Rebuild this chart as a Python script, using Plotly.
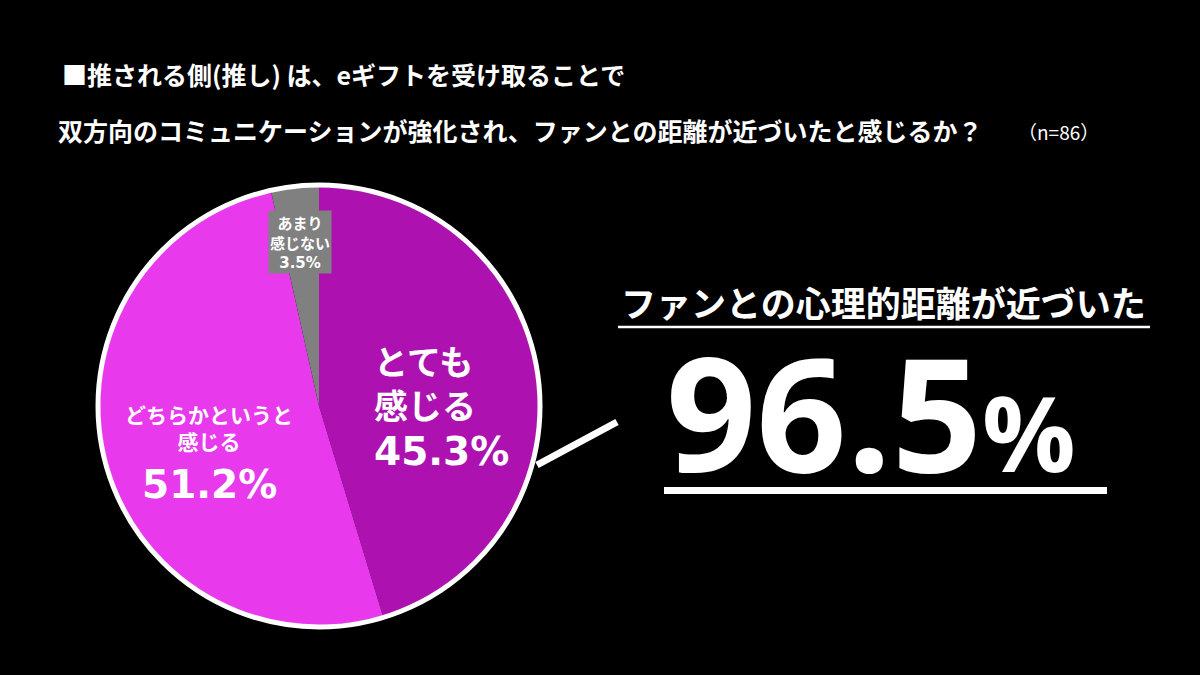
import plotly.graph_objects as go

W, H = 1200, 675

# ---- data ----
categories = ["とても感じる", "どちらかというと感じる", "あまり感じない"]
values = [45.3, 51.2, 3.5]
label_lines = ["とても<br>感じる", "どちらかというと<br>感じる", "あまり<br>感じない"]
colors = ["#AD12B1", "#E83AEC", "#808080"]
title_line1 = "■推される側(推し) は、eギフトを受け取ることで"
title_line2 = "双方向のコミュニケーションが強化され、ファンとの距離が近づいたと感じるか？"
sample_note = "（n=86）"
headline = "ファンとの心理的距離が近づいた"
total_feel = values[0] + values[1]

JP = "Noto Sans CJK JP"
NUM = "DejaVu Sans"


def px(x):
    return x / W


def py(y):
    return 1 - y / H


cx, cy, r = 319, 406, 219

fig = go.Figure()
fig.add_trace(go.Pie(
    labels=categories,
    values=values,
    sort=False,
    direction="clockwise",
    rotation=0,
    marker=dict(colors=colors, line=dict(width=0)),
    textinfo="none",
    hoverinfo="label+percent",
    showlegend=False,
    domain=dict(x=[px(cx - r), px(cx + r)], y=[py(cy + r), py(cy - r)]),
))

ann = []
# titles
ann.append(dict(x=px(60), y=py(74), text=title_line1, xanchor="left", yanchor="middle",
                font=dict(family=JP, size=25, color="white", weight="bold")))
ann.append(dict(x=px(56), y=py(130), text=title_line2, xanchor="left", yanchor="middle",
                font=dict(family=JP, size=25, color="white", weight="bold")))
ann.append(dict(x=px(1016), y=py(131), text=sample_note, xanchor="left", yanchor="middle",
                font=dict(family=JP, size=19, color="white")))

# slice labels
ann.append(dict(x=px(372), y=py(382), text=label_lines[0], xanchor="left", yanchor="middle",
                align="left", font=dict(family=JP, size=34, color="white", weight="bold")))
ann.append(dict(x=px(372), y=py(451), text=f"{values[0]:.1f}%", xanchor="left", yanchor="middle",
                font=dict(family=NUM, size=39, color="white", weight="bold")))

ann.append(dict(x=px(209), y=py(427), text=label_lines[1], xanchor="center", yanchor="middle",
                align="center", font=dict(family=JP, size=21, color="white", weight="bold")))
ann.append(dict(x=px(209), y=py(484), text=f"{values[1]:.1f}%", xanchor="center", yanchor="middle",
                font=dict(family=NUM, size=39, color="white", weight="bold")))

ann.append(dict(x=px(300), y=py(242),
                text=label_lines[2] + f"<br><span style='font-family:DejaVu Sans'>{values[2]:.1f}%</span>",
                xanchor="center", yanchor="middle", align="center", bgcolor=colors[2], borderpad=1,
                font=dict(family=JP, size=15, color="white", weight="bold")))

# headline and big number
ann.append(dict(x=px(883), y=py(301), text=headline, xanchor="center", yanchor="middle",
                font=dict(family=JP, size=35, color="white", weight="bold")))
ann.append(dict(x=px(664), y=py(410),
                text=f"{total_feel:.1f}<span style='font-size:104px'>%</span>",
                xanchor="left", yanchor="middle", height=150, valign="middle",
                font=dict(family="Open Sans", size=158, color="white", weight="bold")))

shapes = [
    dict(type="circle", xref="paper", yref="paper",
         x0=px(cx - 221), x1=px(cx + 221), y0=py(cy + 221), y1=py(cy - 221),
         line=dict(color="white", width=5)),
    dict(type="line", xref="paper", yref="paper",
         x0=px(537), y0=py(465), x1=px(617), y1=py(422),
         line=dict(color="white", width=7)),
    dict(type="line", xref="paper", yref="paper",
         x0=px(618), y0=py(327), x1=px(1150), y1=py(327),
         line=dict(color="white", width=2.5)),
    dict(type="rect", xref="paper", yref="paper",
         x0=px(664), y0=py(494), x1=px(1107), y1=py(487),
         fillcolor="white", line=dict(width=0)),
]

fig.update_layout(
    width=W, height=H,
    margin=dict(l=0, r=0, t=0, b=0),
    paper_bgcolor="black", plot_bgcolor="black",
    annotations=[dict(a, xref="paper", yref="paper", showarrow=False) for a in ann],
    shapes=shapes,
)

fig.write_html(
    "out.html",
    config={"displayModeBar": False},
    post_script="document.body.style.margin='0';document.body.style.background='black';",
)
